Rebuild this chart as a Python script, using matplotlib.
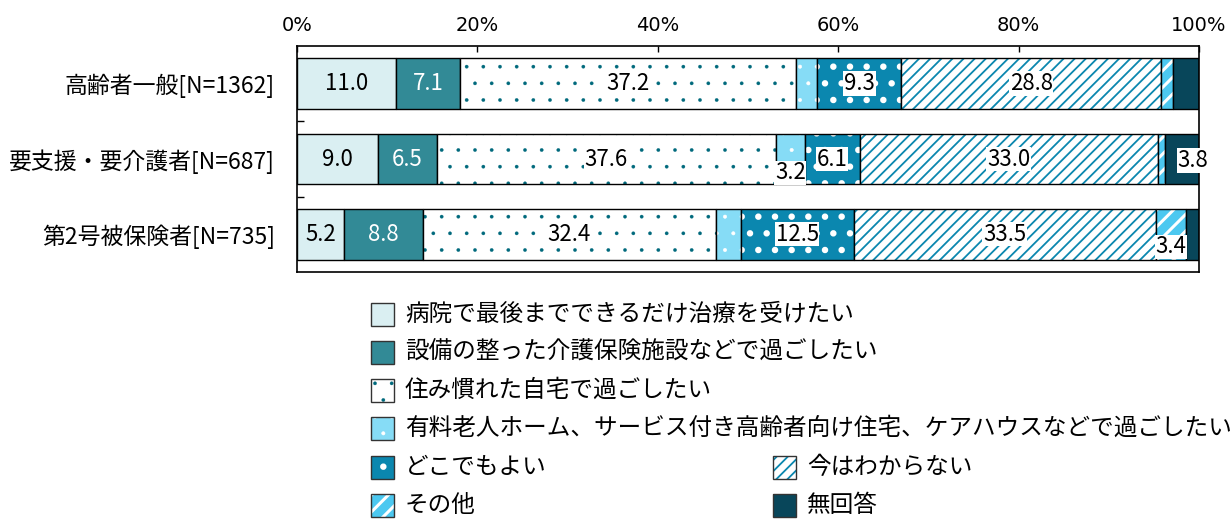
import matplotlib
matplotlib.use("Agg")
import matplotlib.pyplot as plt
from matplotlib.patches import Rectangle
from matplotlib.ticker import FixedLocator

plt.rcParams['font.family'] = ['Noto Sans CJK JP', 'DejaVu Sans']

# 回答者区分
categories = ['高齢者一般[N=1362]', '要支援・要介護者[N=687]', '第2号被保険者[N=735]']

# 選択肢
options = ['病院で最後までできるだけ治療を受けたい',
           '設備の整った介護保険施設などで過ごしたい',
           '住み慣れた自宅で過ごしたい',
           '有料老人ホーム、サービス付き高齢者向け住宅、ケアハウスなどで過ごしたい',
           'どこでもよい',
           '今はわからない',
           'その他',
           '無回答']

# 割合(%)
hospital = [11.0, 9.0, 5.2]
facility = [7.1, 6.5, 8.8]
home = [37.2, 37.6, 32.4]
paid_home = [2.4, 3.2, 2.8]
anywhere = [9.3, 6.1, 12.5]
unknown = [28.8, 33.0, 33.5]
other = [1.3, 0.8, 3.4]
no_answer = [2.9, 3.8, 1.4]

xticks = [0, 20, 40, 60, 80, 100]
xtick_labels = ['0%', '20%', '40%', '60%', '80%', '100%']

series = [hospital, facility, home, paid_home, anywhere, unknown, other, no_answer]

# 塗り色, 模様, 模様の色, 模様の線幅
styles = [
    ('#daeff2', '', '#daeff2', 1.0),
    ('#328a96', '', '#328a96', 1.0),
    ('white', '.', '#00697c', 0.2),
    ('#86dcf6', '.', 'white', 0.4),
    ('#0b87af', '.', 'white', 2.2),
    ('white', '///', '#0b87af', 1.3),
    ('#4cc8f0', '//', 'white', 2.2),
    ('#08465a', '', '#08465a', 1.0),
]
text_colors = ['black', 'white', 'black', 'black', 'black', 'black', 'black', 'black']

# 小さい値のラベル位置をずらす (pt)
label_shift = {(1, 3): (0, -10), (2, 6): (0, -9), (1, 7): (8, -1)}


def set_hlw(patch, lw):
    if hasattr(patch, 'set_hatch_linewidth'):
        patch.set_hatch_linewidth(lw)


W, H = 1231, 519
fig = plt.figure(figsize=(W / 100, H / 100), dpi=100)
ax = fig.add_axes([297 / W, 1 - 272 / H, (1199 - 297) / W, (272 - 46) / H])

ypos = list(range(len(categories)))
bar_h = 0.67
left = [0.0] * len(categories)
for k, (vals, (face, hatch, hcol, hlw)) in enumerate(zip(series, styles)):
    p = ax.barh(ypos, vals, left=left, height=bar_h, color=face,
                edgecolor=hcol, hatch=hatch or None, linewidth=0)
    for b in p:
        set_hlw(b, hlw)
    ax.barh(ypos, vals, left=left, height=bar_h, fill=False,
            edgecolor='black', linewidth=1.0)
    for i, v in enumerate(vals):
        if v >= 3.0:
            dx, dy = label_shift.get((i, k), (0, 0))
            box = None
            if k >= 2:
                box = dict(facecolor='white', edgecolor='none', pad=0.5)
            ax.annotate(f'{v:.1f}', (left[i] + v / 2, i), xytext=(dx, dy),
                        textcoords='offset points', ha='center', va='center',
                        fontsize=16, color=text_colors[k], bbox=box)
    left = [a + b for a, b in zip(left, vals)]

ax.set_xlim(0, 100)
ax.set_ylim(len(categories) - 0.5, -0.5)
ax.xaxis.tick_top()
ax.set_xticks(xticks)
ax.set_xticklabels(xtick_labels, family=['Liberation Sans Narrow', 'DejaVu Sans'],
                   fontsize=14)
ax.tick_params(axis='x', direction='in', length=4, width=1, pad=8, top=True, bottom=False)
ax.set_yticks(ypos)
ax.set_yticklabels(categories, fontsize=16.5)
ax.yaxis.set_minor_locator(FixedLocator([0.5, 1.5]))
ax.tick_params(axis='y', which='major', length=0, pad=16)
ax.tick_params(axis='y', which='minor', direction='in', length=5, width=1)
for s in ax.spines.values():
    s.set_linewidth(1.2)

# 凡例
legend_rows = [314, 352, 390, 428.5, 467, 505]
slots = [(371, 0), (371, 1), (371, 2), (371, 3), (371, 4), (773, 4), (371, 5), (773, 5)]
for k, (x0, r) in enumerate(slots):
    face, hatch, hcol, hlw = styles[k]
    yc = legend_rows[r]
    sq = 23
    box = Rectangle((x0 / W, 1 - (yc + sq / 2) / H), sq / W, sq / H,
                    transform=fig.transFigure, facecolor=face,
                    edgecolor=hcol, hatch=hatch or None, linewidth=0)
    set_hlw(box, hlw)
    fig.add_artist(box)
    fig.add_artist(Rectangle((x0 / W, 1 - (yc + sq / 2) / H), sq / W, sq / H,
                             transform=fig.transFigure, fill=False,
                             edgecolor='#333333', linewidth=1.0))
    fig.text((x0 + 34) / W, 1 - yc / H, options[k], fontsize=17,
             ha='left', va='center')

fig.savefig('out.png', dpi=100)
